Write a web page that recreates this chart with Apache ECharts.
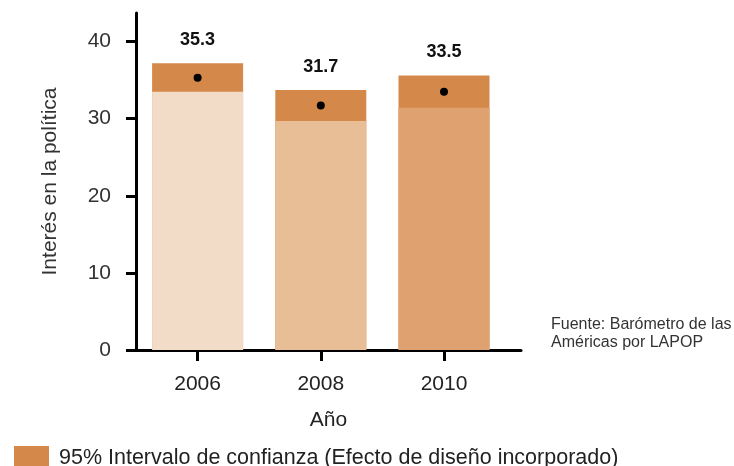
<!DOCTYPE html>
<html>
<head>
<meta charset="utf-8">
<script src="https://cdn.jsdelivr.net/npm/echarts@6/dist/echarts.min.js"></script>
<style>
    html, body { margin: 0; padding: 0; background: #fff; }
    #chart { width: 734px; height: 466px; }
</style>
</head>
<body>
<div id="chart"></div>
<script>
const years = [2006, 2008, 2010]
const means = [35.3, 31.7, 33.5]
const lowerCI = [33.5, 29.7, 31.4]
const upperCI = [37.2, 33.7, 35.6]
const yTicks = [0, 10, 20, 30, 40]

const baseColors = ['#F2DBC7', '#E8BE97', '#DFA170']
const ciColor = '#D4894A'
const font = 'Liberation Sans'
const ciName = '95% Intervalo de confianza (Efecto de diseño incorporado)'

const chart = echarts.init(document.getElementById('chart'))

// la barra del intervalo va de 0 al límite superior, la parte clara se pinta encima hasta el límite inferior
const option = {
    animation: false,
    textStyle: { fontFamily: font },
    grid: { left: 136, right: 213, top: 13, bottom: 116 },
    legend: {
        data: [ciName],
        left: 9, top: 441,
        icon: 'rect',
        itemWidth: 35, itemHeight: 25,
        textStyle: { fontSize: 21.5, color: '#222', fontFamily: font, padding: [0, 0, 0, 5] }
    },
    graphic: [{
        type: 'text', left: 551, top: 316,
        style: {
            text: 'Fuente: Barómetro de las\nAméricas por LAPOP',
            fontSize: 16, lineHeight: 18, fill: '#333', fontFamily: font
        }
    }],
    xAxis: {
        type: 'value',
        min: 2005, max: 2011.25,
        name: 'Año',
        nameLocation: 'middle',
        nameGap: 60,
        nameTextStyle: { fontSize: 21, color: '#222' },
        splitLine: { show: false },
        axisLine: { lineStyle: { color: '#000', width: 3 } },
        axisTick: { show: true, length: 11, customValues: years, lineStyle: { color: '#000', width: 3 } },
        axisLabel: { fontSize: 21, color: '#222', margin: 24, customValues: years, formatter: v => String(v) }
    },
    yAxis: {
        type: 'value',
        min: 0, max: 43.7,
        name: 'Interés en la política',
        nameLocation: 'middle',
        nameGap: 75,
        nameTextStyle: { fontSize: 21, color: '#333' },
        splitLine: { show: false },
        axisLine: { show: true, lineStyle: { color: '#000', width: 3 } },
        axisTick: { show: true, length: 10, customValues: yTicks, lineStyle: { color: '#000', width: 3 } },
        axisLabel: { fontSize: 21, color: '#333', margin: 25, customValues: yTicks }
    },
    series: [
        {
            name: ciName,
            type: 'bar',
            barWidth: 91,
            itemStyle: { color: ciColor },
            data: upperCI.map((v, i) => [years[i], v]),
            label: {
                show: true,
                position: 'top',
                distance: 14,
                fontSize: 18,
                fontWeight: 'bold',
                color: '#111',
                formatter: p => means[p.dataIndex].toFixed(1)
            }
        },
        {
            name: 'base',
            type: 'bar',
            barWidth: 91,
            barGap: '-100%',
            data: lowerCI.map((v, i) => ({ value: [years[i], v], itemStyle: { color: baseColors[i] } }))
        },
        {
            name: 'media',
            type: 'scatter',
            symbolSize: 8,
            itemStyle: { color: '#000', opacity: 1 },
            data: means.map((v, i) => [years[i], v])
        }
    ]
}

chart.setOption(option)
</script>
</body>
</html>
